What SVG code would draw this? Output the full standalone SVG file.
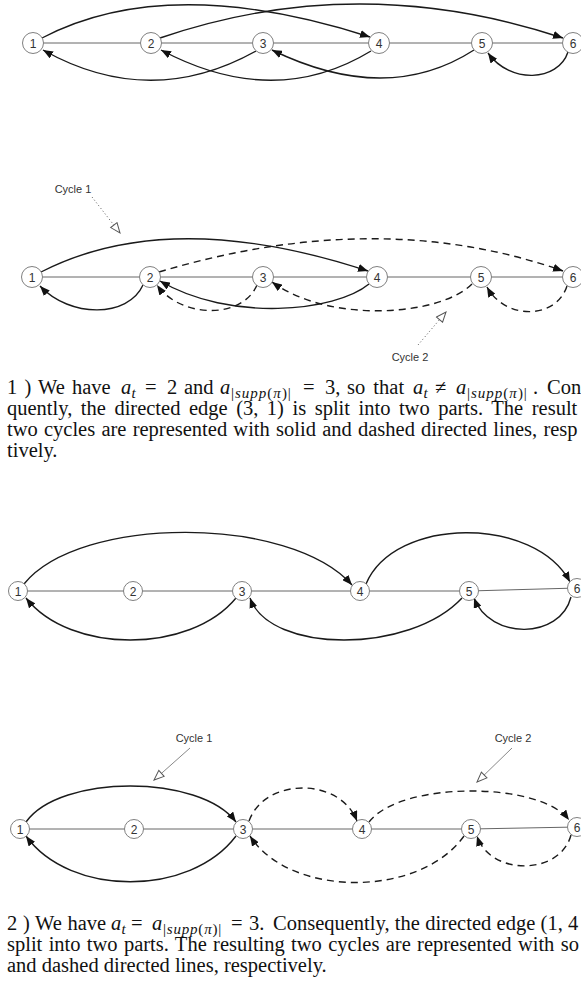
<svg xmlns="http://www.w3.org/2000/svg" width="581" height="981" viewBox="0 0 581 981">
<style>
.bg{fill:#fff}
.axis{stroke:#666;stroke-width:1;fill:none}
.node circle{fill:#fff;stroke:#808080;stroke-width:1}
.node text{font-family:"Liberation Sans",Arial,sans-serif;font-size:12px;fill:#333;text-anchor:middle}
.e{fill:none;stroke:#1a1a1a;stroke-width:1.4;marker-end:url(#ah)}
.d{stroke-dasharray:7,5}
.ann{fill:none;stroke:#888;stroke-width:1;marker-end:url(#hol)}
.dot{stroke:#555;stroke-dasharray:1,2.5}
.lbl{font-family:"Liberation Sans",Arial,sans-serif;font-size:11px;fill:#333;text-anchor:middle}
.body{font-family:"Liberation Serif","Times New Roman",serif;font-size:20.5px;fill:#111}
.it{font-style:italic}
.sb{font-size:15px}
</style>
<defs>
<marker id="ah" viewBox="0 0 10 8" refX="10" refY="4" markerWidth="10" markerHeight="8" markerUnits="userSpaceOnUse" orient="auto"><path d="M0,0 L10,4 L0,8 z" fill="#111"/></marker>
<marker id="hol" viewBox="0 0 12 10" refX="11" refY="5" markerWidth="12" markerHeight="10" markerUnits="userSpaceOnUse" orient="auto"><path d="M1,1 L11,5 L1,9 z" fill="#fff" stroke="#555" stroke-width="1"/></marker>
</defs>
<rect class="bg" x="0" y="0" width="581" height="981"/>

<!-- ===== Diagram 1 ===== -->
<g id="connectors1">
<path class="axis" d="M33,43 H573"/>
<path class="e" d="M42,38 Q168,-28 370,37"/>
<path class="e" d="M160,38 Q358,-30 563,38"/>
<path class="e" d="M256,51 Q150,110 43,50"/>
<path class="e" d="M371,51 Q274,110 161,50"/>
<path class="e" d="M474,50 Q387,106 272,50"/>
<path class="e" d="M568,52 C558,82 510,84 488,53"/>
</g>
<g id="d1n1" class="node"><circle cx="33" cy="43" r="10.5"/><text x="33" y="47.5">1</text></g>
<g id="d1n2" class="node"><circle cx="151" cy="43" r="10.5"/><text x="151" y="47.5">2</text></g>
<g id="d1n3" class="node"><circle cx="263" cy="43" r="10.5"/><text x="263" y="47.5">3</text></g>
<g id="d1n4" class="node"><circle cx="379" cy="43" r="10.5"/><text x="379" y="47.5">4</text></g>
<g id="d1n5" class="node"><circle cx="482" cy="43" r="10.5"/><text x="482" y="47.5">5</text></g>
<g id="d1n6" class="node"><circle cx="573" cy="43" r="10.5"/><text x="573" y="47.5">6</text></g>

<!-- ===== Diagram 2 ===== -->
<g id="connectors2">
<path class="axis" d="M32,277 H573"/>
<path class="e" d="M41,272 Q170,206 368,271"/>
<path class="e d" d="M159,272 Q379,206 563,271"/>
<path class="e" d="M143,285 C128,318 70,318 40,286"/>
<path class="e d" d="M257,285 C242,320 180,318 157,285"/>
<path class="e" d="M369,284 C335,312 230,322 160,281"/>
<path class="e d" d="M472,284 C440,316 330,324 272,282"/>
<path class="e d" d="M567,286 C556,320 505,320 487,287"/>
<path class="ann dot" d="M92,197 L120,233"/>
<path class="ann dot" d="M418,345 L446,312"/>
</g>
<g id="d2n1" class="node"><circle cx="32" cy="277" r="10.5"/><text x="32" y="281.5">1</text></g>
<g id="d2n2" class="node"><circle cx="150" cy="277" r="10.5"/><text x="150" y="281.5">2</text></g>
<g id="d2n3" class="node"><circle cx="263" cy="277" r="10.5"/><text x="263" y="281.5">3</text></g>
<g id="d2n4" class="node"><circle cx="377" cy="277" r="10.5"/><text x="377" y="281.5">4</text></g>
<g id="d2n5" class="node"><circle cx="481" cy="277" r="10.5"/><text x="481" y="281.5">5</text></g>
<g id="d2n6" class="node"><circle cx="573" cy="277" r="10.5"/><text x="573" y="281.5">6</text></g>
<g id="d2c1"><text class="lbl" x="73" y="193">Cycle 1</text></g>
<g id="d2c2"><text class="lbl" x="410" y="361">Cycle 2</text></g>

<g id="caption1" class="body">
<text x="7" y="394" word-spacing="2">1 ) We have</text>
<text x="121" y="394" class="it">a</text><text x="131.5" y="398" class="it sb">t</text>
<text x="145" y="394">=</text><text x="167" y="394">2</text><text x="184" y="394">and</text>
<text x="220" y="394" class="it">a</text><text x="231" y="398" class="sb" letter-spacing="1">|<tspan class="it">supp</tspan>(<tspan class="it">π</tspan>)|</text>
<text x="303" y="394">=</text><text x="325" y="394">3,</text><text x="347" y="394" word-spacing="3">so that</text>
<text x="413" y="394" class="it">a</text><text x="423.5" y="398" class="it sb">t</text>
<text x="435" y="394">≠</text>
<text x="456" y="394" class="it">a</text><text x="467" y="398" class="sb" letter-spacing="1">|<tspan class="it">supp</tspan>(<tspan class="it">π</tspan>)|</text><text x="533" y="394">.</text>
<text x="547" y="394">Con</text>
<text x="7" y="415" word-spacing="3.4">quently, the directed edge (3, 1) is split into two parts. The result</text>
<text x="7" y="436" word-spacing="1.1">two cycles are represented with solid and dashed directed lines, resp</text>
<text x="7" y="457">tively.</text>
</g>

<!-- ===== Diagram 3 ===== -->
<g id="connectors3">
<path class="axis" d="M18,591 H469 L577,588"/>
<path class="e" d="M24,584 C80,515 290,515 352,585"/>
<path class="e" d="M236,598 C190,654 70,654 26,598"/>
<path class="e" d="M462,598 C410,654 270,654 250,598"/>
<path class="e" d="M366,584 C395,516 535,516 570,582"/>
<path class="e" d="M571,597 C560,640 490,640 474,598"/>
</g>
<g id="d3n1" class="node"><circle cx="18" cy="591" r="9.5"/><text x="18" y="595.5">1</text></g>
<g id="d3n2" class="node"><circle cx="133" cy="591" r="9.5"/><text x="133" y="595.5">2</text></g>
<g id="d3n3" class="node"><circle cx="242" cy="591" r="9.5"/><text x="242" y="595.5">3</text></g>
<g id="d3n4" class="node"><circle cx="360" cy="591" r="9.5"/><text x="360" y="595.5">4</text></g>
<g id="d3n5" class="node"><circle cx="469" cy="591" r="9.5"/><text x="469" y="595.5">5</text></g>
<g id="d3n6" class="node"><circle cx="577" cy="588" r="9.5"/><text x="577" y="592.5">6</text></g>

<!-- ===== Diagram 4 ===== -->
<g id="connectors4">
<path class="axis" d="M20,829 H471 L577,827"/>
<path class="e" d="M26,822 C60,774 200,774 236,822"/>
<path class="e" d="M236,836 C190,897 70,897 26,836"/>
<path class="e d" d="M249,821 C265,777 340,777 357,821"/>
<path class="e d" d="M369,822 C400,781 540,781 569,820"/>
<path class="e d" d="M464,836 C420,898 290,898 250,836"/>
<path class="e d" d="M571,835 C560,876 490,876 477,836"/>
<path class="ann" d="M190,748 L154,780"/>
<path class="ann" d="M512,748 L477,782"/>
</g>
<g id="d4n1" class="node"><circle cx="20" cy="829" r="9.5"/><text x="20" y="833.5">1</text></g>
<g id="d4n2" class="node"><circle cx="134" cy="829" r="9.5"/><text x="134" y="833.5">2</text></g>
<g id="d4n3" class="node"><circle cx="243" cy="829" r="9.5"/><text x="243" y="833.5">3</text></g>
<g id="d4n4" class="node"><circle cx="362" cy="829" r="9.5"/><text x="362" y="833.5">4</text></g>
<g id="d4n5" class="node"><circle cx="471" cy="829" r="9.5"/><text x="471" y="833.5">5</text></g>
<g id="d4n6" class="node"><circle cx="577" cy="827" r="9.5"/><text x="577" y="831.5">6</text></g>
<g id="d4c1"><text class="lbl" x="194" y="742">Cycle 1</text></g>
<g id="d4c2"><text class="lbl" x="513" y="742">Cycle 2</text></g>

<g id="caption2" class="body">
<text x="7" y="930" word-spacing="0.5">2 ) We have</text>
<text x="111" y="930" class="it">a</text><text x="121.5" y="934" class="it sb">t</text>
<text x="131" y="930">=</text>
<text x="152" y="930" class="it">a</text><text x="163" y="934" class="sb" letter-spacing="0.8">|<tspan class="it">supp</tspan>(<tspan class="it">π</tspan>)|</text>
<text x="231" y="930">=</text><text x="249" y="930">3.</text>
<text x="273" y="930" word-spacing="0.2">Consequently, the directed edge (1, 4</text>
<text x="7" y="951" word-spacing="1.2">split into two parts. The resulting two cycles are represented with so</text>
<text x="7" y="972">and dashed directed lines, respectively.</text>
</g>
</svg>
